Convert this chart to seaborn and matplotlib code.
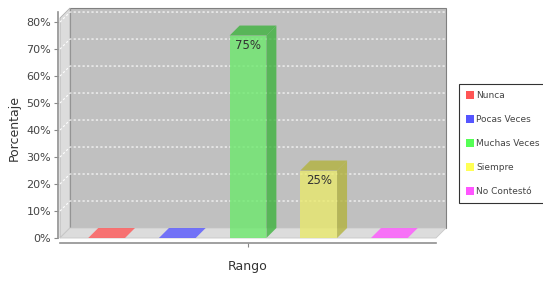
import numpy as np
import pandas as pd
import seaborn as sns
import matplotlib.pyplot as plt
from matplotlib.patches import Polygon, Patch

# datos
respuestas = ['Nunca', 'Pocas Veces', 'Muchas Veces', 'Siempre', 'No Contestó']
porcentajes = [0.0, 0.0, 0.75, 0.25, 0.0]
colores = ['#ff5555', '#5555ff', '#55ff55', '#ffff55', '#ff55ff']
ticks_y = [0, 0.1, 0.2, 0.3, 0.4, 0.5, 0.6, 0.7, 0.8]

df = pd.DataFrame({'Rango': [''] * len(respuestas),
                   'valor': porcentajes,
                   'respuesta': respuestas})

sns.set_style('white')
fig = plt.figure(figsize=(5.43, 2.81), dpi=100)
W, H = 543, 281
ax = fig.add_axes([60 / W, 43 / H, 376 / W, 220 / H])
ax.set_facecolor('none')

alfa = 0.78
sns.barplot(data=df, x='Rango', y='valor', hue='respuesta', palette=colores,
            width=0.94, gap=0.48, alpha=alfa, legend=False, ax=ax, zorder=3,
            linewidth=0)
ax.set_xlim(-0.5, 0.5)
ax.set_ylim(0, 0.815)

# profundidad 3D en unidades de datos
fig.canvas.draw()
inv = ax.transData.inverted()
p0 = inv.transform(ax.transData.transform((0, 0)))
p1 = inv.transform(ax.transData.transform((0, 0)) + np.array([10, 10]))
dx, dy = p1 - p0
x0, x1 = ax.get_xlim()
y0, y1 = ax.get_ylim()

# pared del fondo, pared izquierda y suelo
ax.add_patch(Polygon([(x0 + dx, y0 + dy), (x1 + dx, y0 + dy), (x1 + dx, y1 + dy),
                      (x0 + dx, y1 + dy)], closed=True, facecolor='#c0c0c0',
                     edgecolor='#808080', lw=0.8, zorder=0, clip_on=False))
ax.add_patch(Polygon([(x0, y0), (x0 + dx, y0 + dy), (x0 + dx, y1 + dy), (x0, y1)],
                     closed=True, facecolor='#dcdcdc', edgecolor='#b0b0b0', lw=0.6,
                     zorder=1, clip_on=False))
ax.add_patch(Polygon([(x0, y0), (x1, y0), (x1 + dx, y0 + dy), (x0 + dx, y0 + dy)],
                     closed=True, facecolor='#dcdcdc', edgecolor='#c8c8c8', lw=0.6,
                     zorder=1, clip_on=False))
for t in ticks_y[1:]:
    ax.plot([x0, x0 + dx, x1 + dx], [t, t + dy, t + dy], color='white', lw=0.8,
            ls=(0, (2, 2)), zorder=1.5, clip_on=False)

# caras laterales y superiores de las barras
for bar, col in zip(ax.patches[:len(respuestas)], colores):
    bx, bw, bh = bar.get_x(), bar.get_width(), bar.get_height()
    oscuro = tuple(np.array(plt.matplotlib.colors.to_rgb(col)) * 0.7)
    ax.add_patch(Polygon([(bx, bh), (bx + bw, bh), (bx + bw + dx, bh + dy),
                          (bx + dx, bh + dy)], closed=True, facecolor=oscuro if bh > 0 else col,
                         alpha=alfa, lw=0, zorder=3, clip_on=False))
    if bh > 0:
        ax.add_patch(Polygon([(bx + bw, 0), (bx + bw, bh), (bx + bw + dx, bh + dy),
                              (bx + bw + dx, dy)], closed=True, facecolor=oscuro,
                             alpha=alfa, lw=0, zorder=3, clip_on=False))

etiquetas = [f'{v * 100:.0f}%' if v > 0 else '' for v in porcentajes]
for cont, lab in zip(ax.containers, etiquetas):
    ax.bar_label(cont, labels=[lab], padding=-12, fontsize=8.5, color='#333333')

# ejes
ax.set_yticks(ticks_y)
ax.set_yticklabels([f'{t * 100:.0f}%' for t in ticks_y])
ax.tick_params(axis='y', direction='out', length=3, color='#888888', labelsize=8,
               labelcolor='#444444', pad=2, left=True)
ax.tick_params(axis='x', direction='out', length=3, color='#888888', bottom=True)
for s in ['top', 'right']:
    ax.spines[s].set_visible(False)
ax.spines['left'].set_position(('outward', 1.5))
ax.spines['bottom'].set_position(('outward', 3.5))
ax.spines['left'].set_bounds(0, 0.8 + dy)
for s in ['left', 'bottom']:
    ax.spines[s].set_color('#909090')
    ax.spines[s].set_linewidth(1.2)
ax.set_xlabel('Rango', fontsize=9, color='#333333', labelpad=6)
ax.set_ylabel('Porcentaje', fontsize=9, color='#333333', labelpad=4)

handles = [Patch(facecolor=c, edgecolor='none') for c in colores]
leg = fig.legend(handles, respuestas, loc='upper left',
                 bbox_to_anchor=(459 / W, 1 - 84 / H), fontsize=6.5,
                 frameon=True, fancybox=False, edgecolor='black',
                 handlelength=0.85, handleheight=0.95, handletextpad=0.25,
                 labelspacing=1.65, borderpad=0.8, borderaxespad=0)
leg.get_frame().set_linewidth(0.8)
for t in leg.get_texts():
    t.set_color('#444444')

fig.savefig('out.png', dpi=100)
